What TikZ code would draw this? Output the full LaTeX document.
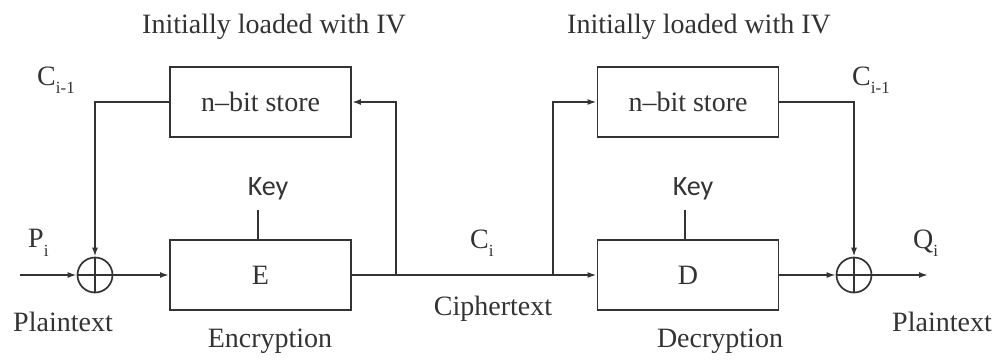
\documentclass[tikz,border=0pt]{standalone}
\usepackage{fontspec}
\setmainfont{Liberation Serif}
\newfontfamily\keyfont{Carlito}
\usetikzlibrary{arrows.meta}
\definecolor{ink}{HTML}{333333}
\newcommand\lowsub[1]{\raisebox{-0.3em}{\fontsize{17}{17}\selectfont #1}}
\begin{document}
\begin{tikzpicture}[x=1pt,y=-1pt,
  every node/.style={text=ink},
  line/.style={draw=ink,line width=1.7pt},
  arr/.style={line,-{Latex[length=9pt,width=6pt]}},
  blk/.style={draw=ink,line width=1.9pt,minimum width=181pt,minimum height=70pt,inner sep=0pt},
  xorc/.style={circle,draw=ink,line width=1.7pt,minimum size=35pt,inner sep=0pt},
  lbl/.style={font=\fontsize{28}{30}\selectfont,inner sep=0pt},
  keyl/.style={font=\keyfont\fontsize{28}{30}\selectfont,inner sep=0pt}]
\useasboundingbox (0,0) rectangle (995,359);
% encryption side
\node[blk,lbl] (store1) at (260.5,102) {n--bit store};
\node[blk,lbl] (E) at (260.5,275) {E};
\node[xorc] (x1) at (95,275) {};
\coordinate (in1) at (20,275);
\coordinate (j1) at (396,275);
\coordinate (k1) at (258,210);
% decryption side
\node[blk,lbl] (store2) at (688,102) {n--bit store};
\node[blk,lbl] (D) at (688,275) {D};
\node[xorc] (x2) at (854,275) {};
\coordinate (j2) at (553,275);
\coordinate (out) at (928,275);
\coordinate (k2) at (685,210);
% xor crosses
\draw[line] (x1.north) -- (x1.south) (x1.west) -- (x1.east);
\draw[line] (x2.north) -- (x2.south) (x2.west) -- (x2.east);
% connectors
\draw[arr] (in1) -- (x1.west);
\draw[arr] (x1.east) -- (E.west);
\draw[arr] (store1.west) -| (x1.north);
\draw[arr] (E.east) -- (D.west);
\draw[arr] (j1) |- (store1.east);
\draw[arr] (j2) |- (store2.west);
\draw[arr] (store2.east) -| (x2.north);
\draw[arr] (D.east) -- (x2.west);
\draw[arr] (x2.east) -- (out);
\draw[line] (k1) -- (k1 |- E.north);
\draw[line] (k2) -- (k2 |- D.north);
% labels
\node[lbl] (iv1) at (274,27) {Initially loaded with IV};
\node[lbl] (iv2) at (699,27) {Initially loaded with IV};
\node[lbl,anchor=west] (cim1) at (37,80) {C\lowsub{i-1}};
\node[lbl,anchor=west] (cim2) at (852,80) {C\lowsub{i-1}};
\node[lbl,anchor=west] (pi) at (28,243) {P\lowsub{i}};
\node[lbl,anchor=west] (ci) at (470,243) {C\lowsub{i}};
\node[lbl,anchor=west] (qi) at (913,243) {Q\lowsub{i}};
\node[keyl] (key1) at (268,189) {Key};
\node[keyl] (key2) at (693,189) {Key};
\node[lbl] (pt1) at (63,322) {Plaintext};
\node[lbl] (pt2) at (942,322) {Plaintext};
\node[lbl] (ct) at (493,309) {Ciphertext};
\node[lbl] (enc) at (270,341) {Encryption};
\node[lbl] (dec) at (720,341) {Decryption};
\end{tikzpicture}
\end{document}
